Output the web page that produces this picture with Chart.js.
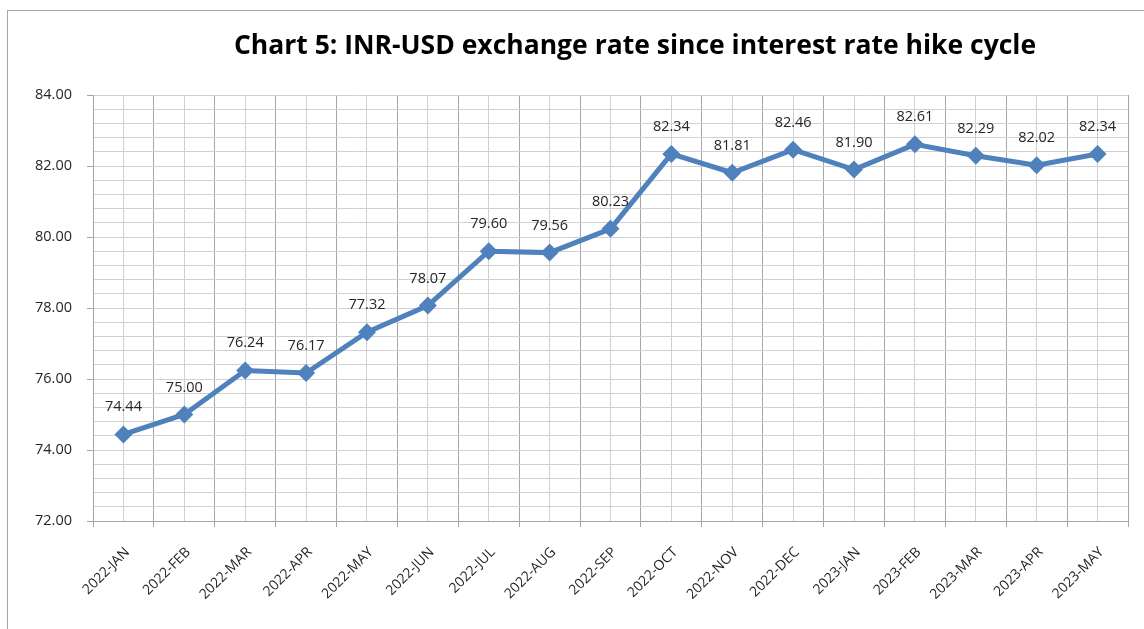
<!DOCTYPE html>
<html>
<head>
<meta charset="utf-8">
<script src="https://cdn.jsdelivr.net/npm/chart.js@4.4.0/dist/chart.umd.min.js"></script>
<style>
  html, body { margin: 0; padding: 0; background: #fff; }
  #wrap { width: 1144px; height: 629px; position: relative; }
</style>
</head>
<body>
<div id="wrap"><canvas id="c_chart" width="1144" height="629"></canvas></div>
<script>
// data
const months = ['2022-JAN', '2022-FEB', '2022-MAR', '2022-APR', '2022-MAY', '2022-JUN', '2022-JUL', '2022-AUG', '2022-SEP',
  '2022-OCT', '2022-NOV', '2022-DEC', '2023-JAN', '2023-FEB', '2023-MAR', '2023-APR', '2023-MAY'];
const inrUsd = [74.44, 75.00, 76.24, 76.17, 77.32, 78.07, 79.60, 79.56, 80.23, 82.34, 81.81, 82.46, 81.90, 82.61, 82.29, 82.02, 82.34];
const yMin = 72;
const yMax = 84;
const titleText = 'Chart 5: INR-USD exchange rate since interest rate hike cycle';

const lineColor = '#4f81bd';
const textColor = '#262626';

function isMajor(v) {
  return Math.abs(v / 2 - Math.round(v / 2)) < 1e-6;
}

// outer chart border + title, like the excel chart area
const frameAndTitle = {
  id: 'frameAndTitle',
  beforeDraw(chart) {
    let ctx = chart.ctx;
    ctx.save();
    ctx.fillStyle = '#fff';
    ctx.fillRect(0, 0, chart.width, chart.height);
    ctx.strokeStyle = '#a6a6a6';
    ctx.lineWidth = 1;
    ctx.strokeRect(7.5, 10.5, chart.width + 20, chart.height + 20);

    ctx.fillStyle = '#000';
    ctx.font = 'bold 26.5px "Open Sans"';
    ctx.textAlign = 'center';
    ctx.textBaseline = 'middle';
    ctx.fillText(titleText, 635, 46);
    ctx.restore();
  }
};

// value labels above each point
const valueLabels = {
  id: 'valueLabels',
  afterDatasetsDraw(chart) {
    let ctx = chart.ctx;
    let meta = chart.getDatasetMeta(0);
    ctx.save();
    ctx.font = '14.5px "Open Sans"';
    ctx.fillStyle = textColor;
    ctx.textAlign = 'center';
    ctx.textBaseline = 'alphabetic';
    meta.data.forEach((pt, i) => {
      ctx.fillText(inrUsd[i].toFixed(2), pt.x, pt.y - 23);
    });
    ctx.restore();
  }
};

let ctx = document.getElementById('c_chart').getContext('2d');

new Chart(ctx, {
  type: 'line',
  data: {
    labels: months,
    datasets: [{
      data: inrUsd,
      borderColor: lineColor,
      backgroundColor: lineColor,
      borderWidth: 5,
      pointStyle: 'rectRot',
      pointRadius: 9,
      pointHoverRadius: 9,
      pointBorderWidth: 0,
      tension: 0,
      xAxisID: 'x',
      yAxisID: 'y'
    }]
  },
  options: {
    responsive: false,
    animation: false,
    layout: { padding: { left: 0, right: 16, top: 95, bottom: 0 } },
    plugins: {
      legend: { display: false },
      tooltip: { enabled: false },
      title: { display: false }
    },
    scales: {
      x: {
        type: 'category',
        offset: true,
        grid: {
          offset: true,
          color: '#a6a6a6',
          tickColor: '#a6a6a6',
          tickLength: 6
        },
        border: { color: '#a6a6a6' },
        ticks: {
          color: textColor,
          font: { family: '"Open Sans"', size: 14 },
          minRotation: 45,
          maxRotation: 45,
          autoSkip: false,
          padding: 17,
          labelOffset: 4
        },
        afterFit(scale) { scale.height = 108; }
      },
      xMinor: {
        type: 'category',
        offset: true,
        position: 'bottom',
        grid: { offset: false, color: '#d0d0d0', drawTicks: false },
        border: { display: false },
        ticks: { display: false },
        afterFit(scale) { scale.height = 0; }
      },
      y: {
        min: yMin,
        max: yMax,
        grid: {
          color: '#d0d0d0',
          tickColor: (c) => isMajor(c.tick.value) ? '#a6a6a6' : 'rgba(0,0,0,0)',
          tickLength: 6
        },
        border: { color: '#a6a6a6' },
        ticks: {
          stepSize: 0.4,
          autoSkip: false,
          color: textColor,
          font: { family: '"Open Sans"', size: 14.5 },
          padding: 15,
          callback: (v) => isMajor(v) ? v.toFixed(2) : ''
        },
        afterFit(scale) { scale.width = 93; }
      }
    }
  },
  plugins: [frameAndTitle, valueLabels]
});
</script>
</body>
</html>
